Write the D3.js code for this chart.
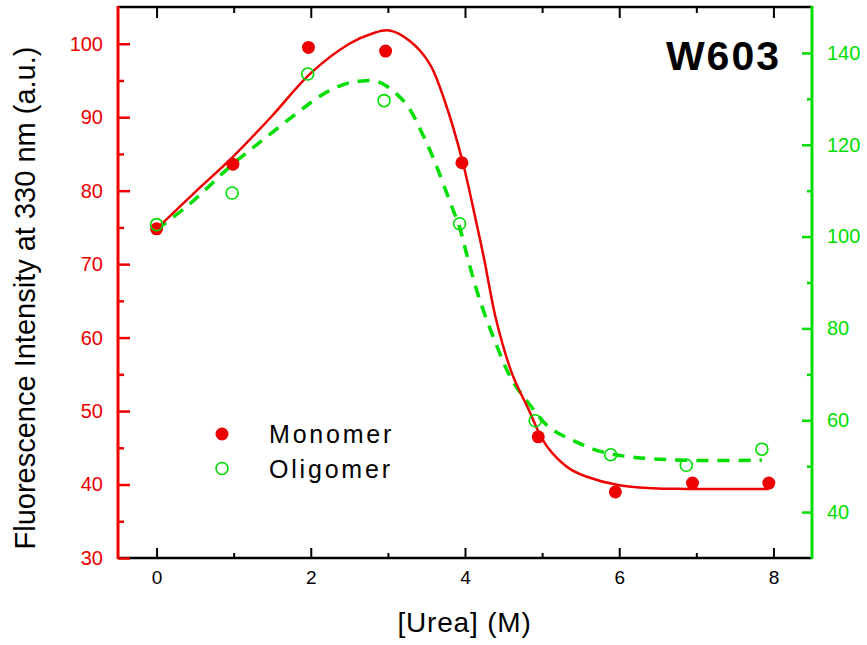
<!DOCTYPE html>
<html>
<head>
<meta charset="utf-8">
<script src="https://cdn.jsdelivr.net/npm/d3@7"></script>
<style>
  body { margin: 0; background: #fff; }
  svg { display: block; font-family: "Liberation Sans", Arial, sans-serif; }
</style>
</head>
<body>
<div id="chart"></div>
<script>
// measured points
var monoUrea = [0, 0.99, 1.97, 2.97, 3.96, 4.95, 5.95, 6.95, 7.94];
var monoValues = [74.8, 83.6, 99.5, 99.0, 83.8, 46.5, 39.0, 40.2, 40.2];
var oligoUrea = [0, 0.98, 1.96, 2.95, 3.93, 4.91, 5.89, 6.87, 7.85];
var oligoValues = [102.6, 109.5, 135.4, 129.6, 102.8, 59.9, 52.5, 50.2, 53.7];

// fitted curves
var monoFitUrea = [0, 0.5, 0.99, 1.5, 1.99, 2.5, 2.8, 3.02, 3.28, 3.54, 3.75, 3.97, 4.14, 4.25, 4.40, 4.61, 4.83, 5.0, 5.13, 5.35, 5.57, 6.0, 6.43, 6.86, 7.94];
var monoFit = [74.8, 79.8, 84.6, 90.2, 95.9, 100.0, 101.4, 101.8, 100.4, 97.3, 91.8, 83.9, 76.0, 70.6, 62.6, 55.1, 50.1, 46.2, 44.3, 42.2, 41.1, 39.9, 39.5, 39.4, 39.4];
var oligoFitUrea = [0, 0.43, 0.99, 1.42, 1.86, 2.2, 2.5, 2.68, 2.83, 2.98, 3.24, 3.45, 3.62, 3.80, 3.93, 4.03, 4.18, 4.40, 4.61, 4.83, 5.09, 5.44, 5.78, 6.21, 6.86, 7.85];
var oligoFit = [101.5, 107.1, 115.8, 121.6, 127.4, 131.4, 133.5, 133.9, 133.9, 132.8, 128.8, 122.3, 115.8, 107.8, 102.0, 95.6, 86.8, 76.7, 68.7, 63.6, 58.5, 55.3, 53.1, 51.9, 51.3, 51.3];

var xMajor = [0, 2, 4, 6, 8];
var xMinor = [1, 3, 5, 7];
var leftMajor = [30, 40, 50, 60, 70, 80, 90, 100];
var leftMinor = [35, 45, 55, 65, 75, 85, 95];
var rightMajor = [40, 60, 80, 100, 120, 140];
var rightMinor = [50, 70, 90, 110, 130];

var seriesNames = ["Monomer", "Oligomer"];

function renderChart() {
	var RED = "#ee0000", GREEN = "#00dd00";

	var width = 867, height = 645;
	// plot frame
	var pL = 118, pR = 812, pT = 7, pB = 558;

	var svg = d3.select("#chart").append("svg")
		.attr("width", width)
		.attr("height", height);

	var x = d3.scaleLinear().domain([-0.5, 8.5]).range([pL, pR]);
	var yL = d3.scaleLinear().domain([30, 105]).range([pB, pT]);
	var yR = d3.scaleLinear().domain([30, 150]).range([pB, pT]);

	function styleAxis(g, color, w, fontSize) {
		g.select(".domain").remove();
		g.attr("font-size", null).attr("font-family", null);
		g.selectAll(".tick line").attr("stroke", color).attr("stroke-width", w);
		g.selectAll(".tick text")
			.attr("fill", color)
			.style("font-size", fontSize);
	}

	// top axis (ticks only)
	svg.append("g").attr("transform", "translate(0," + pT + ")")
		.call(d3.axisTop(x).tickValues(xMajor).tickSize(-11).tickFormat(""))
		.call(styleAxis, "#000", 2, "0px");
	svg.append("g").attr("transform", "translate(0," + pT + ")")
		.call(d3.axisTop(x).tickValues(xMinor).tickSize(-6).tickFormat(""))
		.call(styleAxis, "#000", 2, "0px");
	svg.append("line").attr("x1", pL).attr("x2", pR).attr("y1", pT).attr("y2", pT)
		.attr("stroke", "#000").attr("stroke-width", 2.5);

	// bottom axis
	svg.append("g").attr("transform", "translate(0," + pB + ")")
		.call(d3.axisBottom(x).tickValues(xMajor).tickSize(-10).tickPadding(13).tickFormat(d3.format("d")))
		.call(styleAxis, "#000", 2, "19px");
	svg.append("g").attr("transform", "translate(0," + pB + ")")
		.call(d3.axisBottom(x).tickValues(xMinor).tickSize(-5).tickFormat(""))
		.call(styleAxis, "#000", 2, "0px");
	svg.append("line").attr("x1", pL).attr("x2", pR).attr("y1", pB).attr("y2", pB)
		.attr("stroke", "#000").attr("stroke-width", 2.5);

	// left axis (red)
	svg.append("g").attr("transform", "translate(" + pL + ",0)")
		.call(d3.axisLeft(yL).tickValues(leftMajor).tickSize(-12).tickPadding(15))
		.call(styleAxis, RED, 2.5, "20px");
	svg.append("g").attr("transform", "translate(" + pL + ",0)")
		.call(d3.axisLeft(yL).tickValues(leftMinor).tickSize(-6).tickFormat(""))
		.call(styleAxis, RED, 2.5, "0px");
	svg.append("line").attr("x1", pL).attr("x2", pL).attr("y1", pT - 1).attr("y2", pB + 1)
		.attr("stroke", RED).attr("stroke-width", 3);

	// right axis (green)
	svg.append("g").attr("transform", "translate(" + pR + ",0)")
		.call(d3.axisRight(yR).tickValues(rightMajor).tickSize(-10).tickPadding(15))
		.call(styleAxis, GREEN, 2.5, "20px");
	svg.append("g").attr("transform", "translate(" + pR + ",0)")
		.call(d3.axisRight(yR).tickValues(rightMinor).tickSize(-5).tickFormat(""))
		.call(styleAxis, GREEN, 2.5, "0px");
	svg.append("line").attr("x1", pR).attr("x2", pR).attr("y1", pT - 1).attr("y2", pB + 1)
		.attr("stroke", GREEN).attr("stroke-width", 3);

	// fit curves
	var monoLine = d3.line()
		.x(function (d, i) { return x(monoFitUrea[i]); })
		.y(function (d) { return yL(d); })
		.curve(d3.curveCatmullRom.alpha(0.5));
	var oligoLine = d3.line()
		.x(function (d, i) { return x(oligoFitUrea[i]); })
		.y(function (d) { return yR(d); })
		.curve(d3.curveCatmullRom.alpha(0.5));

	svg.append("path").attr("d", oligoLine(oligoFit))
		.attr("fill", "none").attr("stroke", GREEN).attr("stroke-width", 3.5)
		.attr("stroke-dasharray", "12,9");
	svg.append("path").attr("d", monoLine(monoFit))
		.attr("fill", "none").attr("stroke", RED).attr("stroke-width", 2.5);

	// markers
	svg.selectAll("circle.mono").data(monoValues).enter().append("circle")
		.attr("class", "mono")
		.attr("cx", function (d, i) { return x(monoUrea[i]); })
		.attr("cy", function (d) { return yL(d); })
		.attr("r", 6.5)
		.attr("fill", RED);
	svg.selectAll("circle.oligo").data(oligoValues).enter().append("circle")
		.attr("class", "oligo")
		.attr("cx", function (d, i) { return x(oligoUrea[i]); })
		.attr("cy", function (d) { return yR(d); })
		.attr("r", 6)
		.attr("fill", "none")
		.attr("stroke", GREEN)
		.attr("stroke-width", 1.6);

	// legend
	var legend = svg.selectAll("g.legend").data(seriesNames).enter().append("g")
		.attr("class", "legend")
		.attr("transform", function (d, i) { return "translate(222," + (434 + i * 34.5) + ")"; });
	legend.append("circle")
		.attr("r", function (d, i) { return i == 0 ? 6.5 : 6; })
		.attr("fill", function (d, i) { return i == 0 ? RED : "none"; })
		.attr("stroke", function (d, i) { return i == 0 ? "none" : GREEN; })
		.attr("stroke-width", 1.6);
	legend.append("text")
		.attr("x", 47)
		.attr("y", 9)
		.style("font-size", "25px")
		.style("letter-spacing", "2.8px")
		.attr("fill", "#000")
		.text(function (d) { return d; });

	// title
	svg.append("text")
		.attr("x", 781)
		.attr("y", 70)
		.attr("text-anchor", "end")
		.style("font-size", "41px")
		.style("font-weight", "bold")
		.style("letter-spacing", "2px")
		.text("W603");

	// axis titles
	svg.append("text")
		.attr("x", (398 + 531) / 2)
		.attr("y", 632)
		.attr("text-anchor", "middle")
		.style("font-size", "28px")
		.style("letter-spacing", "0.8px")
		.text("[Urea] (M)");

	svg.append("text")
		.attr("transform", "translate(35,298) rotate(-90)")
		.attr("text-anchor", "middle")
		.style("font-size", "29px")
		.text("Fluorescence Intensity at 330 nm (a.u.)");
}

renderChart();
</script>
</body>
</html>
